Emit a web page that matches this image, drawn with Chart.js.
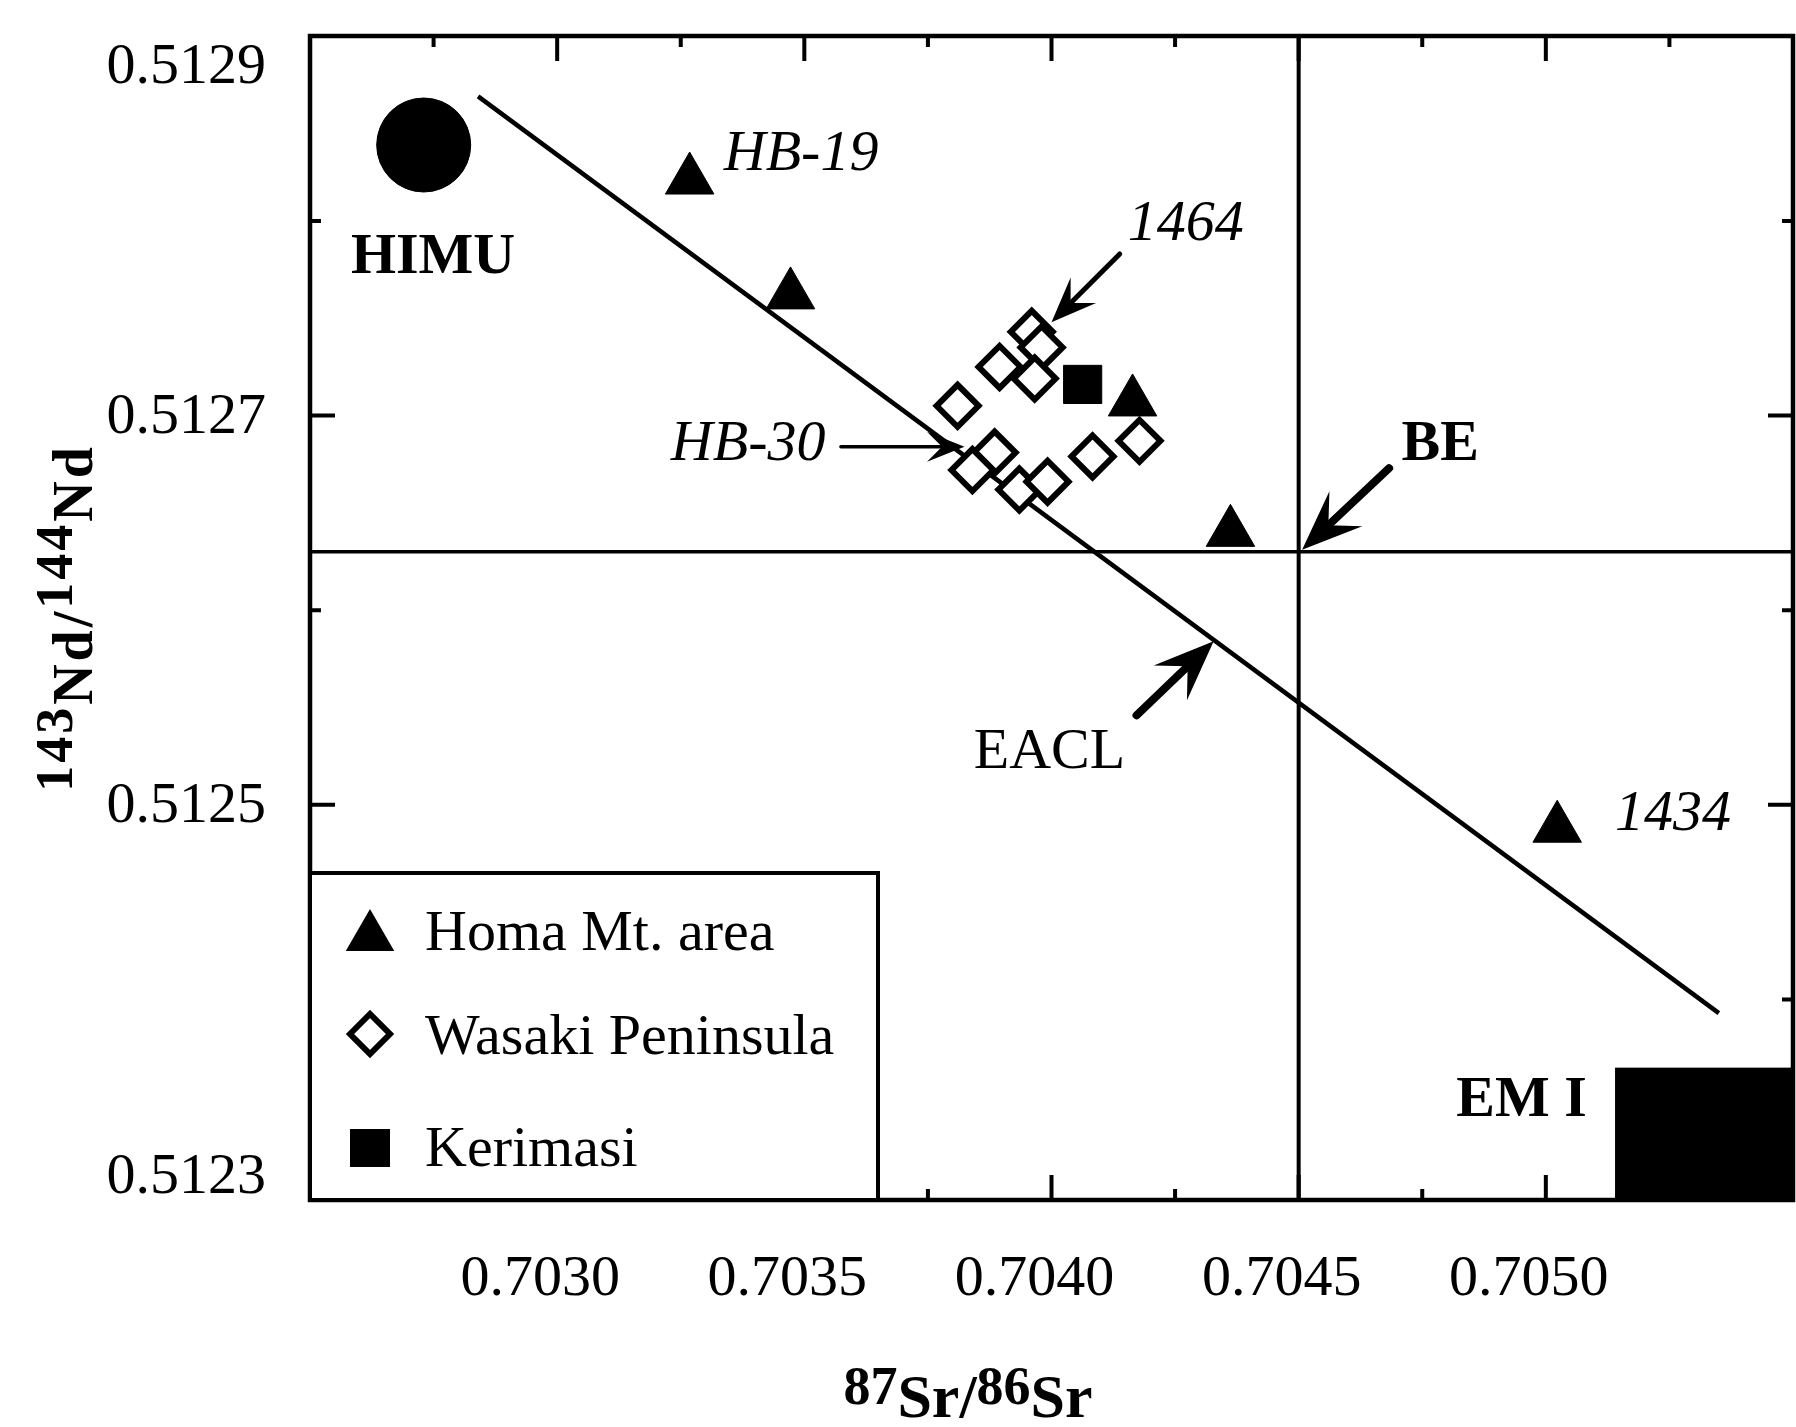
<!DOCTYPE html>
<html>
<head>
<meta charset="utf-8">
<title>87Sr/86Sr vs 143Nd/144Nd</title>
<script src="https://cdn.jsdelivr.net/npm/chart.js@4.4.1/dist/chart.umd.min.js"></script>
<style>
    html, body { margin: 0; padding: 0; background: #fff; }
    #wrap { width: 1796px; height: 1427px; position: relative; }
</style>
</head>
<body>
<div id="wrap"><canvas id="srNdChart"></canvas></div>
<script>
// 数据
const homaSr = [0.703268, 0.703472, 0.704164, 0.704362, 0.705023];
const homaNd = [0.512821, 0.512762, 0.512707, 0.512640, 0.512488];

const wasakiSr = [0.703810, 0.703885, 0.703840, 0.703935, 0.703992, 0.704083, 0.704178,
                  0.703960, 0.703980, 0.703895, 0.703966];
const wasakiNd = [0.512705, 0.512681, 0.512672, 0.512662, 0.512666, 0.512679, 0.512687,
                  0.512743, 0.512735, 0.512725, 0.512719];

const kerimasiSr = [0.704063];
const kerimasiNd = [0.512716];

const himuSr = [0.702730];
const himuNd = [0.512839];

const eaclSr = [0.702840, 0.705350];
const eaclNd = [0.512864, 0.512393];

const beSr = 0.7045;
const beNd = 0.51263;

// EM I 区域（超出坐标框的部分被裁掉）
const em1Sr = [0.70514, 0.7056];
const em1Nd = [0.5122, 0.512365];

const xTicks = [0.7030, 0.7035, 0.7040, 0.7045, 0.7050];
const yTicks = [0.5123, 0.5125, 0.5127, 0.5129];
const xRange = [0.7025, 0.7055];
const yRange = [0.512297, 0.512895];

// 文字标注和箭头（数据坐标）
const textLabels = [
    { text: 'HIMU', sr: 0.702749, nd: 0.512781, style: 'bold', align: 'center' },
    { text: 'HB-19', sr: 0.703337, nd: 0.512834, style: 'italic', align: 'left' },
    { text: '1464', sr: 0.704154, nd: 0.512798, style: 'italic', align: 'left' },
    { text: 'HB-30', sr: 0.703230, nd: 0.512685, style: 'italic', align: 'left' },
    { text: 'BE', sr: 0.704708, nd: 0.512685, style: 'bold', align: 'left' },
    { text: 'EACL', sr: 0.703996, nd: 0.512527, style: '', align: 'center' },
    { text: '1434', sr: 0.705140, nd: 0.512495, style: 'italic', align: 'left' },
    { text: 'EM I', sr: 0.704819, nd: 0.512348, style: 'bold', align: 'left' }
];
const arrows = [
    { from: [0.704138, 0.512783], to: [0.704000, 0.512748], width: 5 },
    { from: [0.703574, 0.512684], to: [0.703824, 0.512684], width: 3.5 },
    { from: [0.704683, 0.512673], to: [0.704507, 0.512631], width: 8 },
    { from: [0.704172, 0.512546], to: [0.704328, 0.512584], width: 8 }
];

const legendItems = [
    { text: 'Homa Mt. area', marker: 'triangle' },
    { text: 'Wasaki Peninsula', marker: 'diamond' },
    { text: 'Kerimasi', marker: 'square' }
];

const SERIF = '"Liberation Serif", "Times New Roman", serif';

function toPoints(xs, ys) {
    return xs.map((x, i) => ({ x: x, y: ys[i] }));
}

// 画箭头
function drawArrow(ctx, x1, y1, x2, y2, w) {
    const ang = Math.atan2(y2 - y1, x2 - x1);
    const headLen = 20 + w * 5;
    const headW = 8 + w * 2;
    ctx.save();
    ctx.strokeStyle = '#000';
    ctx.fillStyle = '#000';
    ctx.lineWidth = w;
    ctx.lineCap = 'round';
    ctx.beginPath();
    ctx.moveTo(x1, y1);
    ctx.lineTo(x2 - Math.cos(ang) * headLen * 0.5, y2 - Math.sin(ang) * headLen * 0.5);
    ctx.stroke();
    ctx.translate(x2, y2);
    ctx.rotate(ang);
    ctx.beginPath();
    ctx.moveTo(0, 0);
    ctx.lineTo(-headLen, -headW);
    ctx.lineTo(-headLen * 0.6, 0);
    ctx.lineTo(-headLen, headW);
    ctx.closePath();
    ctx.fill();
    ctx.restore();
}

// 带上标的文字，居中于 (cx, baseline)
function drawSupText(ctx, parts, cx, baseline, mainFont, supFont, rise) {
    let total = 0;
    parts.forEach(p => {
        ctx.font = p.sup ? supFont : mainFont;
        p.w = ctx.measureText(p.t).width;
        total += p.w;
    });
    let x = cx - total / 2;
    ctx.textAlign = 'left';
    ctx.textBaseline = 'alphabetic';
    parts.forEach(p => {
        ctx.font = p.sup ? supFont : mainFont;
        ctx.fillText(p.t, x, p.sup ? baseline - rise : baseline);
        x += p.w;
    });
}

function drawMarker(ctx, kind, x, y) {
    ctx.save();
    ctx.fillStyle = '#000';
    ctx.strokeStyle = '#000';
    ctx.beginPath();
    if (kind === 'triangle') {
        const r = 28;
        ctx.moveTo(x, y - r);
        ctx.lineTo(x + r * Math.sin(2 * Math.PI / 3), y + r / 2);
        ctx.lineTo(x - r * Math.sin(2 * Math.PI / 3), y + r / 2);
        ctx.closePath();
        ctx.fill();
    } else if (kind === 'diamond') {
        const r = 20;
        ctx.moveTo(x - r, y);
        ctx.lineTo(x, y - r);
        ctx.lineTo(x + r, y);
        ctx.lineTo(x, y + r);
        ctx.closePath();
        ctx.fillStyle = '#fff';
        ctx.fill();
        ctx.lineWidth = 6;
        ctx.stroke();
    } else {
        ctx.fillRect(x - 20, y - 19, 40, 38);
    }
    ctx.restore();
}

// 坐标框、刻度、标注、图例
const decorPlugin = {
    id: 'decor',
    afterDraw(chart) {
        const ctx = chart.ctx;
        const a = chart.chartArea;
        const xs = chart.scales.x;
        const ys = chart.scales.y;
        const px = v => xs.getPixelForValue(v);
        const py = v => ys.getPixelForValue(v);

        ctx.save();
        ctx.strokeStyle = '#000';
        ctx.fillStyle = '#000';

        // 刻度（朝内）
        ctx.lineWidth = 4;
        ctx.beginPath();
        const xMinor = [];
        xTicks.forEach(v => { xMinor.push(v - 0.00025); });
        xMinor.push(xTicks[xTicks.length - 1] + 0.00025);
        xTicks.forEach(v => {
            const x = px(v);
            ctx.moveTo(x, a.top); ctx.lineTo(x, a.top + 25);
            ctx.moveTo(x, a.bottom); ctx.lineTo(x, a.bottom - 25);
        });
        xMinor.forEach(v => {
            const x = px(v);
            if (x <= a.left + 2 || x >= a.right - 2) return;
            ctx.moveTo(x, a.top); ctx.lineTo(x, a.top + 11);
            ctx.moveTo(x, a.bottom); ctx.lineTo(x, a.bottom - 11);
        });
        yTicks.forEach(v => {
            const y = py(v);
            if (y <= a.top + 2 || y >= a.bottom - 2) return;
            ctx.moveTo(a.left, y); ctx.lineTo(a.left + 25, y);
            ctx.moveTo(a.right, y); ctx.lineTo(a.right - 25, y);
        });
        [0.5124, 0.5126, 0.5128].forEach(v => {
            const y = py(v);
            ctx.moveTo(a.left, y); ctx.lineTo(a.left + 11, y);
            ctx.moveTo(a.right, y); ctx.lineTo(a.right - 11, y);
        });
        ctx.stroke();

        // EM I 黑色区域
        const ex0 = Math.max(px(em1Sr[0]), a.left);
        const ex1 = Math.min(px(em1Sr[1]), a.right);
        const ey0 = Math.max(py(em1Nd[1]), a.top);
        const ey1 = Math.min(py(em1Nd[0]), a.bottom);
        ctx.fillRect(ex0, ey0, ex1 - ex0, ey1 - ey0);

        // 坐标框
        ctx.lineWidth = 4.5;
        ctx.strokeRect(a.left, a.top, a.right - a.left, a.bottom - a.top);

        // 图例框
        const lx = a.left, ly = a.top + 837, lw = 568, lh = a.bottom - ly;
        ctx.fillStyle = '#fff';
        ctx.fillRect(lx, ly, lw, lh);
        ctx.lineWidth = 4;
        ctx.strokeRect(lx, ly, lw, lh);
        ctx.fillStyle = '#000';
        const rowBase = [77, 181, 293];
        const markerY = [64, 161, 275];
        ctx.font = '58px ' + SERIF;
        ctx.textAlign = 'left';
        ctx.textBaseline = 'alphabetic';
        legendItems.forEach((item, i) => {
            drawMarker(ctx, item.marker, lx + 60, ly + markerY[i]);
            ctx.fillStyle = '#000';
            ctx.fillText(item.text, lx + 115, ly + rowBase[i]);
        });

        // 箭头
        arrows.forEach(ar => {
            drawArrow(ctx, px(ar.from[0]), py(ar.from[1]), px(ar.to[0]), py(ar.to[1]), ar.width);
        });

        // 文字标注
        ctx.textBaseline = 'middle';
        textLabels.forEach(l => {
            ctx.font = (l.style ? l.style + ' ' : '') + '58px ' + SERIF;
            ctx.textAlign = l.align;
            ctx.fillText(l.text, px(l.sr), py(l.nd));
        });

        // 刻度标签
        ctx.font = '58px ' + SERIF;
        ctx.textAlign = 'right';
        ctx.textBaseline = 'middle';
        yTicks.forEach(v => {
            let y = py(v);
            y = Math.min(Math.max(y, a.top + 30), a.bottom - 24);
            ctx.fillText(v.toFixed(4), a.left - 44, y + 2);
        });
        ctx.textAlign = 'center';
        xTicks.forEach(v => {
            ctx.fillText(v.toFixed(4), px(v) - 17, a.bottom + 80);
        });

        // 坐标轴标题
        drawSupText(ctx, [
            { t: '87', sup: true }, { t: 'Sr/', sup: false },
            { t: '86', sup: true }, { t: 'Sr', sup: false }
        ], a.left + 658, a.bottom + 217, 'bold 62px ' + SERIF, 'bold 54px ' + SERIF, 13);

        ctx.save();
        ctx.translate(a.left - 218, (a.top + a.bottom) / 2);
        ctx.rotate(-Math.PI / 2);
        ctx.letterSpacing = '3px';
        drawSupText(ctx, [
            { t: '143', sup: true }, { t: 'Nd/', sup: false },
            { t: '144', sup: true }, { t: 'Nd', sup: false }
        ], 0, 0, 'bold 56px ' + SERIF, 'bold 52px ' + SERIF, 20);
        ctx.restore();

        ctx.restore();
    }
};

// 初始化图表
const ctx = document.getElementById('srNdChart').getContext('2d');
const srNdChart = new Chart(ctx, {
    type: 'scatter',
    data: {
        datasets: [
            {
                label: 'Kerimasi',
                data: toPoints(kerimasiSr, kerimasiNd),
                pointStyle: 'rect',
                pointRadius: 27,
                backgroundColor: '#000',
                borderColor: '#000',
                borderWidth: 1
            },
            {
                label: 'Wasaki Peninsula',
                data: toPoints(wasakiSr, wasakiNd),
                pointStyle: 'rectRot',
                pointRadius: 21,
                backgroundColor: '#fff',
                borderColor: '#000',
                borderWidth: 6
            },
            {
                label: 'Homa Mt. area',
                data: toPoints(homaSr, homaNd),
                pointStyle: 'triangle',
                pointRadius: 28,
                backgroundColor: '#000',
                borderColor: '#000',
                borderWidth: 1
            },
            {
                label: 'HIMU',
                data: toPoints(himuSr, himuNd),
                pointStyle: 'circle',
                pointRadius: 47,
                backgroundColor: '#000',
                borderColor: '#000',
                borderWidth: 1
            },
            {
                label: 'EACL',
                data: toPoints(eaclSr, eaclNd),
                showLine: true,
                fill: false,
                pointRadius: 0,
                borderColor: '#000',
                borderWidth: 4.5
            },
            {
                label: 'BE Nd',
                data: [{ x: xRange[0], y: beNd }, { x: xRange[1], y: beNd }],
                showLine: true,
                fill: false,
                pointRadius: 0,
                borderColor: '#000',
                borderWidth: 3.5
            },
            {
                label: 'BE Sr',
                data: [{ x: beSr, y: yRange[0] }, { x: beSr, y: yRange[1] }],
                showLine: true,
                fill: false,
                pointRadius: 0,
                borderColor: '#000',
                borderWidth: 4
            }
        ]
    },
    options: {
        responsive: true,
        maintainAspectRatio: false,
        animation: false,
        events: [],
        layout: {
            autoPadding: false,
            padding: { left: 310, top: 36, right: 3, bottom: 227 }
        },
        plugins: {
            legend: { display: false },
            tooltip: { enabled: false }
        },
        scales: {
            x: { type: 'linear', min: xRange[0], max: xRange[1], display: false },
            y: { type: 'linear', min: yRange[0], max: yRange[1], display: false }
        }
    },
    plugins: [decorPlugin]
});
</script>
</body>
</html>
